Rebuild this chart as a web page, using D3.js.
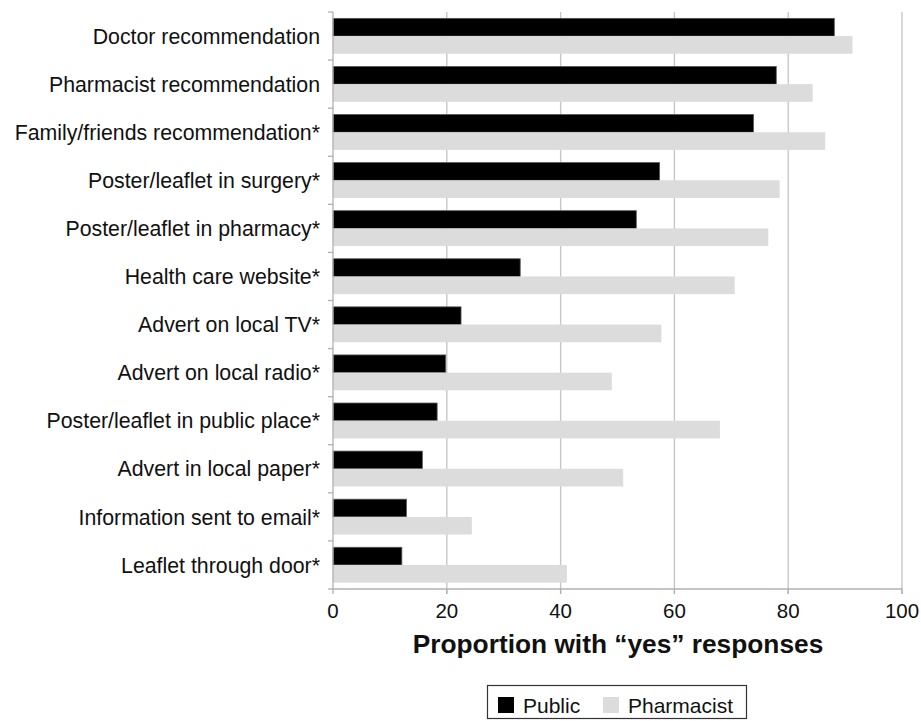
<!DOCTYPE html>
<html>
<head>
<meta charset="utf-8">
<script src="https://cdn.jsdelivr.net/npm/d3@7.9.0/dist/d3.min.js"></script>
<style>
  body { margin: 0; background: #fff; }
  svg { font-family: "Liberation Sans", Arial, sans-serif; }
</style>
</head>
<body>
<svg width="921" height="721"></svg>
<script>
const categories = [
  'Doctor recommendation',
  'Pharmacist recommendation',
  'Family/friends recommendation*',
  'Poster/leaflet in surgery*',
  'Poster/leaflet in pharmacy*',
  'Health care website*',
  'Advert on local TV*',
  'Advert on local radio*',
  'Poster/leaflet in public place*',
  'Advert in local paper*',
  'Information sent to email*',
  'Leaflet through door*'
];
const publicValues = [88.1, 77.9, 73.9, 57.4, 53.3, 32.9, 22.5, 19.8, 18.3, 15.7, 12.9, 12.1];
const pharmacistValues = [91.3, 84.3, 86.5, 78.5, 76.5, 70.6, 57.7, 49.0, 68.0, 51.0, 24.4, 41.1];
const xTicks = [0, 20, 40, 60, 80, 100];
const seriesNames = ['Public', 'Pharmacist'];
const seriesColors = ['#000000', '#dcdcdc'];

const svg = d3.select('svg');
const plotLeft = 333, plotRight = 902, plotTop = 12, plotBottom = 589;

const x = d3.scaleLinear().domain([0, 100]).range([plotLeft, plotRight]);
const y = d3.scaleBand().domain(categories).range([plotTop, plotBottom]).paddingInner(0).paddingOuter(0);
const inner = d3.scaleBand().domain(seriesNames).range([0, y.bandwidth()]).paddingOuter(0.36).paddingInner(0);

// gridlines
svg.append('g')
  .selectAll('line')
  .data(xTicks.filter(d => d > 0))
  .join('line')
  .attr('x1', d => x(d)).attr('x2', d => x(d))
  .attr('y1', plotTop).attr('y2', plotBottom + 5)
  .attr('stroke', '#c4c4c4').attr('stroke-width', 1.3);

// bars
const rows = categories.map((c, i) => ({ c, vals: [publicValues[i], pharmacistValues[i]] }));
const g = svg.append('g');
rows.forEach(r => {
  r.vals.forEach((v, j) => {
    g.append('rect')
      .attr('x', x(0))
      .attr('y', y(r.c) + inner(seriesNames[j]))
      .attr('width', x(v) - x(0))
      .attr('height', inner.bandwidth())
      .attr('fill', seriesColors[j])
      .attr('stroke', j === 0 ? '#555' : 'none')
      .attr('stroke-width', 0.8);
  });
});

// y axis
const yAxis = svg.append('g');
yAxis.append('line')
  .attr('x1', plotLeft).attr('x2', plotLeft).attr('y1', plotTop).attr('y2', plotBottom)
  .attr('stroke', '#b0b0b0').attr('stroke-width', 1.3);
yAxis.selectAll('.tk')
  .data(d3.range(categories.length + 1))
  .join('line')
  .attr('x1', plotLeft - 5).attr('x2', plotLeft)
  .attr('y1', i => plotTop + i * y.bandwidth()).attr('y2', i => plotTop + i * y.bandwidth())
  .attr('stroke', '#b0b0b0').attr('stroke-width', 1.3);
yAxis.selectAll('text')
  .data(categories)
  .join('text')
  .attr('x', 320)
  .attr('y', d => y(d) + y.bandwidth() / 2 + 2)
  .attr('text-anchor', 'end')
  .attr('dominant-baseline', 'middle')
  .attr('font-size', 21.3)
  .attr('fill', '#111')
  .text(d => d);

// x axis
const xAxis = svg.append('g');
xAxis.append('line')
  .attr('x1', plotLeft).attr('x2', plotRight).attr('y1', plotBottom).attr('y2', plotBottom)
  .attr('stroke', '#b0b0b0').attr('stroke-width', 1.3);
xAxis.selectAll('.tk')
  .data(xTicks)
  .join('line')
  .attr('x1', d => x(d)).attr('x2', d => x(d))
  .attr('y1', plotBottom).attr('y2', plotBottom + 5)
  .attr('stroke', '#b0b0b0').attr('stroke-width', 1.3);
xAxis.selectAll('text')
  .data(xTicks)
  .join('text')
  .attr('x', d => x(d))
  .attr('y', 618)
  .attr('text-anchor', 'middle')
  .attr('font-size', 20.5)
  .attr('fill', '#111')
  .text(d => d);

svg.append('text')
  .attr('x', 618)
  .attr('y', 653)
  .attr('text-anchor', 'middle')
  .attr('font-size', 26.3)
  .attr('font-weight', 'bold')
  .attr('fill', '#111')
  .text('Proportion with \u201Cyes\u201D responses');

// legend
const lg = svg.append('g');
lg.append('rect')
  .attr('x', 487.5).attr('y', 685.5).attr('width', 259).attr('height', 33)
  .attr('fill', '#fff').attr('stroke', '#333').attr('stroke-width', 1.2);
const legendX = [498, 603];
seriesNames.forEach((s, i) => {
  lg.append('rect')
    .attr('x', legendX[i]).attr('y', 697).attr('width', 16).attr('height', 16)
    .attr('fill', seriesColors[i]);
  lg.append('text')
    .attr('x', legendX[i] + 25).attr('y', 713)
    .attr('font-size', 21).attr('fill', '#111')
    .text(s);
});
</script>
</body>
</html>
